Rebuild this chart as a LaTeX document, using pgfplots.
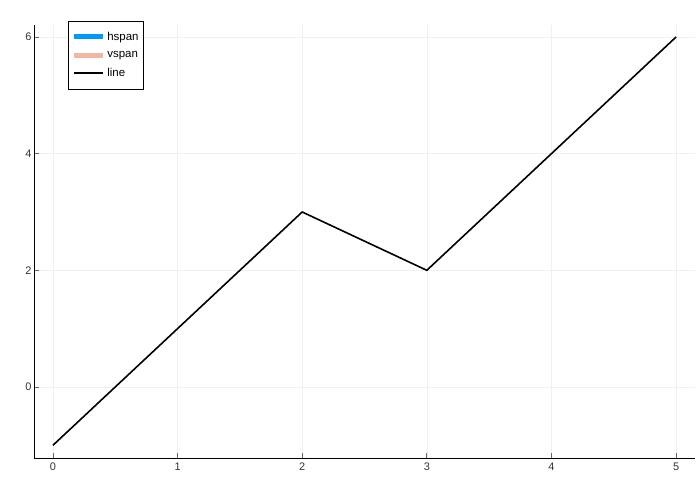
\documentclass[border=0pt]{standalone}
\usepackage{fontspec}
\setmainfont{Liberation Sans}
\usepackage{pgfplots}
\pgfplotsset{compat=1.18}
\definecolor{hspanc}{RGB}{0,154,250}
\definecolor{vspanc}{RGB}{241,183,163}
\begin{document}
\begin{tikzpicture}
\useasboundingbox (0,0) rectangle (700bp,500bp);
\begin{axis}[
  at={(34bp,42bp)}, anchor=south west,
  scale only axis,
  width=661bp, height=433bp,
  xmin=-0.152, xmax=5.152,
  ymin=-1.218, ymax=6.206,
  axis lines*=left,
  axis line style={black, line width=0.9pt},
  xtick={0,1,2,3,4,5},
  ytick={0,2,4,6},
  tick align=inside,
  major tick length=4.5bp,
  tick style={black!60, line width=0.7pt},
  grid=major,
  grid style={black!6, line width=0.6pt},
  /pgf/number format/assume math mode=true,
  tick label style={font=\fontsize{11}{12}\selectfont, text=black!80},
  xticklabel style={yshift=-1bp},
  yticklabel style={xshift=1bp},
  legend cell align=left,
  legend style={at={(axis description cs:0.0514,1.0099)}, anchor=north west,
    draw=black, line width=0.7pt, font=\fontsize{11.5}{13}\selectfont,
    inner xsep=3bp, inner ysep=9bp, row sep=5.5bp},
  legend image code/.code={\draw[#1] (0bp,0bp) -- (29bp,0bp);},
]
\addlegendimage{hspanc, line width=5bp}
\addlegendentry{hspan}
\addlegendimage{vspanc, line width=5bp}
\addlegendentry{vspan}
\addlegendimage{black, line width=1.8bp}
\addlegendentry{line}
\addplot[black, line width=1.6bp, forget plot] coordinates {(0,-1) (2,3) (3,2) (5,6)};
\end{axis}
\end{tikzpicture}
\end{document}
